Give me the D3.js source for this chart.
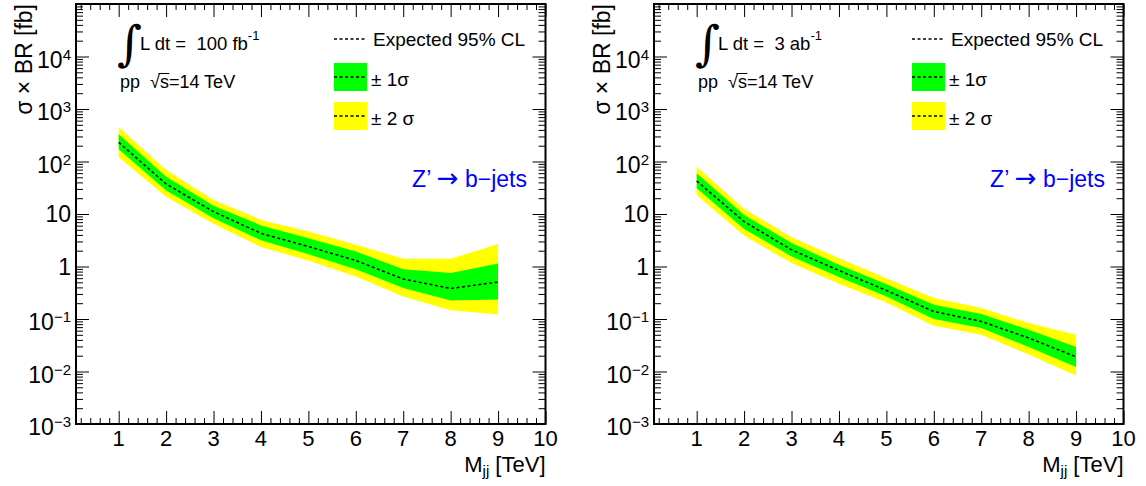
<!DOCTYPE html>
<html>
<head>
<meta charset="utf-8">
<script src="https://cdn.jsdelivr.net/npm/d3@7"></script>
<style>
body { margin: 0; background: #fff; }
text { font-family: "Liberation Sans", Arial, Helvetica, sans-serif; fill: #000; }
</style>
</head>
<body>
<svg id="chart" width="1146" height="486"></svg>
<script>
// dijet mass points [TeV]
const mass = [1, 2, 3, 4, 5, 6, 7, 8, 9]

// 100 fb-1 expected limit and bands [fb]
const exp100 = [232, 37.3, 11.1, 4.28, 2.4, 1.3, 0.576, 0.382, 0.505]
const up1_100 = [329, 51.4, 14.3, 6.07, 3.47, 1.93, 0.89, 0.75, 1.14]
const dn1_100 = [171, 27.9, 8.3, 3.15, 1.72, 0.89, 0.388, 0.226, 0.236]
const up2_100 = [447, 68.9, 18.5, 7.72, 4.63, 2.59, 1.4, 1.4, 2.67]
const dn2_100 = [120, 21.4, 6.5, 2.35, 1.3, 0.645, 0.269, 0.146, 0.122]

// 3 ab-1 expected limit and bands [fb]
const exp3k = [42.6, 7.17, 2.08, 0.84, 0.35, 0.139, 0.09, 0.0435, 0.019]
const up1_3k = [59.7, 9.6, 2.79, 1.08, 0.46, 0.187, 0.124, 0.0626, 0.0294]
const dn1_3k = [31, 5.2, 1.55, 0.63, 0.269, 0.1, 0.0675, 0.0294, 0.0122]
const up2_3k = [79.6, 12.5, 3.62, 1.44, 0.6, 0.251, 0.162, 0.0839, 0.05]
const dn2_3k = [23.1, 3.88, 1.16, 0.47, 0.207, 0.0746, 0.0502, 0.021, 0.00836]

// axis ticks and labels
const xTicks = [1, 2, 3, 4, 5, 6, 7, 8, 9, 10]
const yTicks = [1e-3, 1e-2, 1e-1, 1, 10, 1e2, 1e3, 1e4]
const yLabels = [['10', '\u22123'], ['10', '\u22122'], ['10', '\u22121'], ['1', ''], ['10', ''], ['10', '2'], ['10', '3'], ['10', '4']]

const svg = d3.select('#chart')
const W = 469.5, H = 420, frameTop = 4 // frame size

function drawPanel(ox, expd, up1, dn1, up2, dn2, lumi, unit) {
	const g = svg.append('g').attr('transform', `translate(${ox},${frameTop})`)

	const x = d3.scaleLinear().domain([0.1, 10]).range([0, W])
	const y = d3.scaleLog().domain([1e-3, 1e5]).range([H, 0])

	const rows = mass.map((m, i) => ({ m, e: expd[i], u1: up1[i], d1: dn1[i], u2: up2[i], d2: dn2[i] }))

	// bands: yellow first, green on top
	g.append('path').datum(rows)
		.attr('fill', '#ffff00')
		.attr('d', d3.area().x(d => x(d.m)).y0(d => y(d.d2)).y1(d => y(d.u2)))
	g.append('path').datum(rows)
		.attr('fill', '#00ff00')
		.attr('d', d3.area().x(d => x(d.m)).y0(d => y(d.d1)).y1(d => y(d.u1)))
	g.append('path').datum(rows)
		.attr('fill', 'none').attr('stroke', '#000').attr('stroke-width', 1.5)
		.attr('stroke-dasharray', '3 2.5')
		.attr('d', d3.line().x(d => x(d.m)).y(d => y(d.e)))

	// ticks on all four sides, pointing inward
	const xMinor = d3.range(1, 50).map(i => i * 0.2).filter(v => Math.abs(v - Math.round(v)) > 1e-6)
	const yMinor = []
	for (let p = -3; p <= 4; p++) for (let k = 2; k <= 9; k++) yMinor.push(k * Math.pow(10, p))

	const noDomain = s => s.select('.domain').remove()
	const addAxis = (axis, tr, vals, size) => {
		g.append('g').attr('transform', tr)
			.call(axis.tickValues(vals).tickSize(size).tickSizeOuter(0).tickFormat(''))
			.call(noDomain)
			.selectAll('line').attr('stroke', '#000')
	}
	addAxis(d3.axisBottom(x), `translate(0,${H})`, xTicks, -13)
	addAxis(d3.axisBottom(x), `translate(0,${H})`, xMinor, -6)
	addAxis(d3.axisTop(x), 'translate(0,0)', xTicks, -13)
	addAxis(d3.axisTop(x), 'translate(0,0)', xMinor, -6)
	addAxis(d3.axisLeft(y), 'translate(0,0)', yTicks, -13)
	addAxis(d3.axisLeft(y), 'translate(0,0)', yMinor, -7)
	addAxis(d3.axisRight(y), `translate(${W},0)`, yTicks, -13)
	addAxis(d3.axisRight(y), `translate(${W},0)`, yMinor, -7)

	g.append('rect').attr('width', W).attr('height', H)
		.attr('fill', 'none').attr('stroke', '#000').attr('stroke-width', 2)

	// x tick labels
	g.selectAll('.xl').data(xTicks).enter().append('text')
		.attr('x', d => x(d)).attr('y', H + 22)
		.attr('text-anchor', 'middle').style('font-size', '22px')
		.text(d => d)

	// y tick labels with exponents
	yTicks.forEach((v, i) => {
		const [base, ex] = yLabels[i]
		const t = g.append('text').attr('x', -5).attr('y', y(v) + (ex ? 11 : 8))
			.attr('text-anchor', 'end').style('font-size', '23px')
		t.append('tspan').text(base)
		if (ex) t.append('tspan').attr('dy', -8).style('font-size', '15px').text(ex)
	})

	// axis titles
	const xt = g.append('text').attr('x', W).attr('y', H + 48)
		.attr('text-anchor', 'end').style('font-size', '22px')
	xt.append('tspan').text('M')
	xt.append('tspan').attr('dy', 4).style('font-size', '15px').text('jj')
	xt.append('tspan').attr('dy', -4).text(' [TeV]')

	g.append('text')
		.attr('transform', `translate(${-44},0) rotate(-90)`)
		.attr('text-anchor', 'end').style('font-size', '23px')
		.text('\u03c3 \u00d7 BR [fb]')

	// luminosity label
	g.append('text').attr('x', 41).attr('y', 56)
		.style('font-family', '"DejaVu Serif", serif').style('font-size', '48px')
		.text('\u222b')
	const lt = g.append('text').attr('x', 64).attr('y', 46).style('font-size', '18.5px')
	lt.append('tspan').text('L dt =\u00a0\u00a0' + lumi + ' ' + unit)
	lt.append('tspan').attr('dy', -10).style('font-size', '13px').text('-1')

	const st = g.append('text').attr('x', 44).attr('y', 84).style('font-size', '18px')
	st.append('tspan').text('pp\u00a0\u00a0\u221a')
	st.append('tspan').text('s')
	st.append('tspan').text('=14 TeV')
	const node = st.node()
	const sq = node.getExtentOfChar(4), sc = node.getExtentOfChar(5)
	g.append('line')
		.attr('x1', sq.x + sq.width - 1.5).attr('x2', sc.x + sc.width + 0.5)
		.attr('y1', 84 - 14.5).attr('y2', 84 - 14.5)
		.attr('stroke', '#000').attr('stroke-width', 1)

	// legend
	const lx = 258
	g.append('line').attr('x1', lx).attr('x2', lx + 33).attr('y1', 35).attr('y2', 35)
		.attr('stroke', '#000').attr('stroke-width', 1.5).attr('stroke-dasharray', '3 2.5')
	g.append('text').attr('x', lx + 39).attr('y', 42).style('font-size', '19px').text('Expected 95% CL')

	const boxes = [{ c: '#00ff00', y0: 59, label: '\u00b1 1\u03c3' }, { c: '#ffff00', y0: 98, label: '\u00b1 2 \u03c3' }]
	boxes.forEach(b => {
		g.append('rect').attr('x', lx).attr('y', b.y0).attr('width', 33).attr('height', 28).attr('fill', b.c)
		g.append('line').attr('x1', lx).attr('x2', lx + 33).attr('y1', b.y0 + 14).attr('y2', b.y0 + 14)
			.attr('stroke', '#000').attr('stroke-width', 1.5).attr('stroke-dasharray', '3 2.5')
		g.append('text').attr('x', lx + 37).attr('y', b.y0 + 23).style('font-size', '19px').text(b.label)
	})

	const zt = g.append('text').attr('x', 451).attr('y', 183)
		.attr('text-anchor', 'end').style('font-size', '23px').style('fill', '#0000ff')
	zt.append('tspan').text('Z\u2019 ')
	zt.append('tspan').style('font-family', '"DejaVu Sans", sans-serif').style('font-size', '26px').text('\u2192')
	zt.append('tspan').text(' b\u2212jets')
}

drawPanel(76, exp100, up1_100, dn1_100, up2_100, dn2_100, '100', 'fb')
drawPanel(654, exp3k, up1_3k, dn1_3k, up2_3k, dn2_3k, '3', 'ab')
</script>
</body>
</html>
